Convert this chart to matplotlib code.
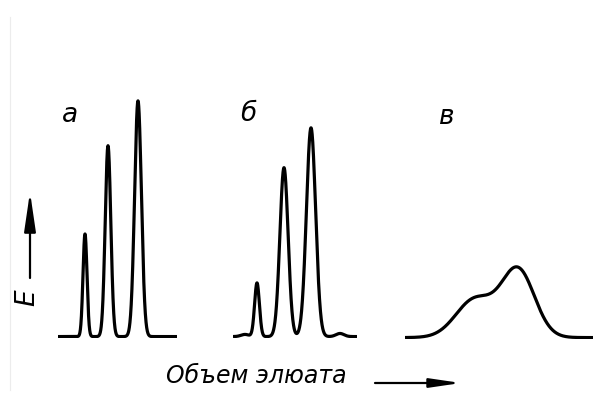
import numpy as np
import matplotlib
matplotlib.use("Agg")
import matplotlib.pyplot as plt

# peak parameters (x in volume units, heights in % of panel height)
centers_a = [27, 50, 80]
heights_a = [43, 80, 98.8]
widths_a = [2.0, 2.8, 3.4]

centers_b = [12, 24, 51, 78, 107]
heights_b = [0.9, 22.5, 70.8, 87.5, 1.3]
widths_b = [4.0, 2.4, 4.1, 4.6, 4.0]

centers_c = [70, 113]
heights_c = [16.0, 28.3]
widths_c = [19, 16.5]

panel_letters = ["а", "б", "в"]
x_label = "Объем элюата"
y_label = "E"

W, H = 594, 394
LW = 2.3


def curve(x, centers, heights, widths):
    y = np.zeros_like(x)
    for c, h, s in zip(centers, heights, widths):
        y += h * np.exp(-(x - c) ** 2 / (2 * s ** 2))
    return y


fig = plt.figure(figsize=(W / 100, H / 100), dpi=100)
fig.patch.set_facecolor("white")

# panel boxes in pixels: left, right, baseline
panels = [
    (58, 177, 338, centers_a, heights_a, widths_a),
    (233, 357, 338, centers_b, heights_b, widths_b),
    (405, 593, 339, centers_c, heights_c, widths_c),
]
for left, right, base, cs, hs, ws in panels:
    ax = fig.add_axes([left / W, (H - base) / H, (right - left) / W, 240 / H])
    x = np.linspace(0, right - left, 1500)
    ax.plot(x, curve(x, cs, hs, ws), color="black", lw=LW,
            solid_joinstyle="round", solid_capstyle="butt")
    ax.set_xlim(0, right - left)
    ax.set_ylim(-0.6, 100)
    ax.axis("off")

font = dict(family="DejaVu Sans", style="italic", color="black")
letter_pos = [(70, 115), (248, 114), (447, 117)]
for (px, py), t in zip(letter_pos, panel_letters):
    fig.text(px / W, 1 - py / H, t, fontsize=19, ha="center", va="center", **font)

fig.text(256 / W, 1 - 376 / H, x_label, fontsize=17, ha="center", va="center", **font)
fig.text(27 / W, 1 - 298 / H, y_label, fontsize=19, rotation=90,
         ha="center", va="center", **font)

# arrows
arrow = dict(arrowstyle="-|>,head_length=1.7,head_width=0.25", color="black", lw=1.6,
             shrinkA=0, shrinkB=0)
fig.add_artist(matplotlib.patches.FancyArrowPatch(
    (30 / W, 1 - 278 / H), (30 / W, 1 - 192 / H), transform=fig.transFigure,
    mutation_scale=14, **arrow))
fig.add_artist(matplotlib.patches.FancyArrowPatch(
    (375 / W, 1 - 383 / H), (461 / W, 1 - 383 / H), transform=fig.transFigure,
    mutation_scale=11, **arrow))

# faint scan edge on the left
fig.add_artist(plt.Line2D([10 / W, 10 / W], [1 - 390 / H, 1 - 17 / H],
                          transform=fig.transFigure, color="#ececec", lw=0.8))

fig.savefig("out.png", dpi=100, facecolor="white")
